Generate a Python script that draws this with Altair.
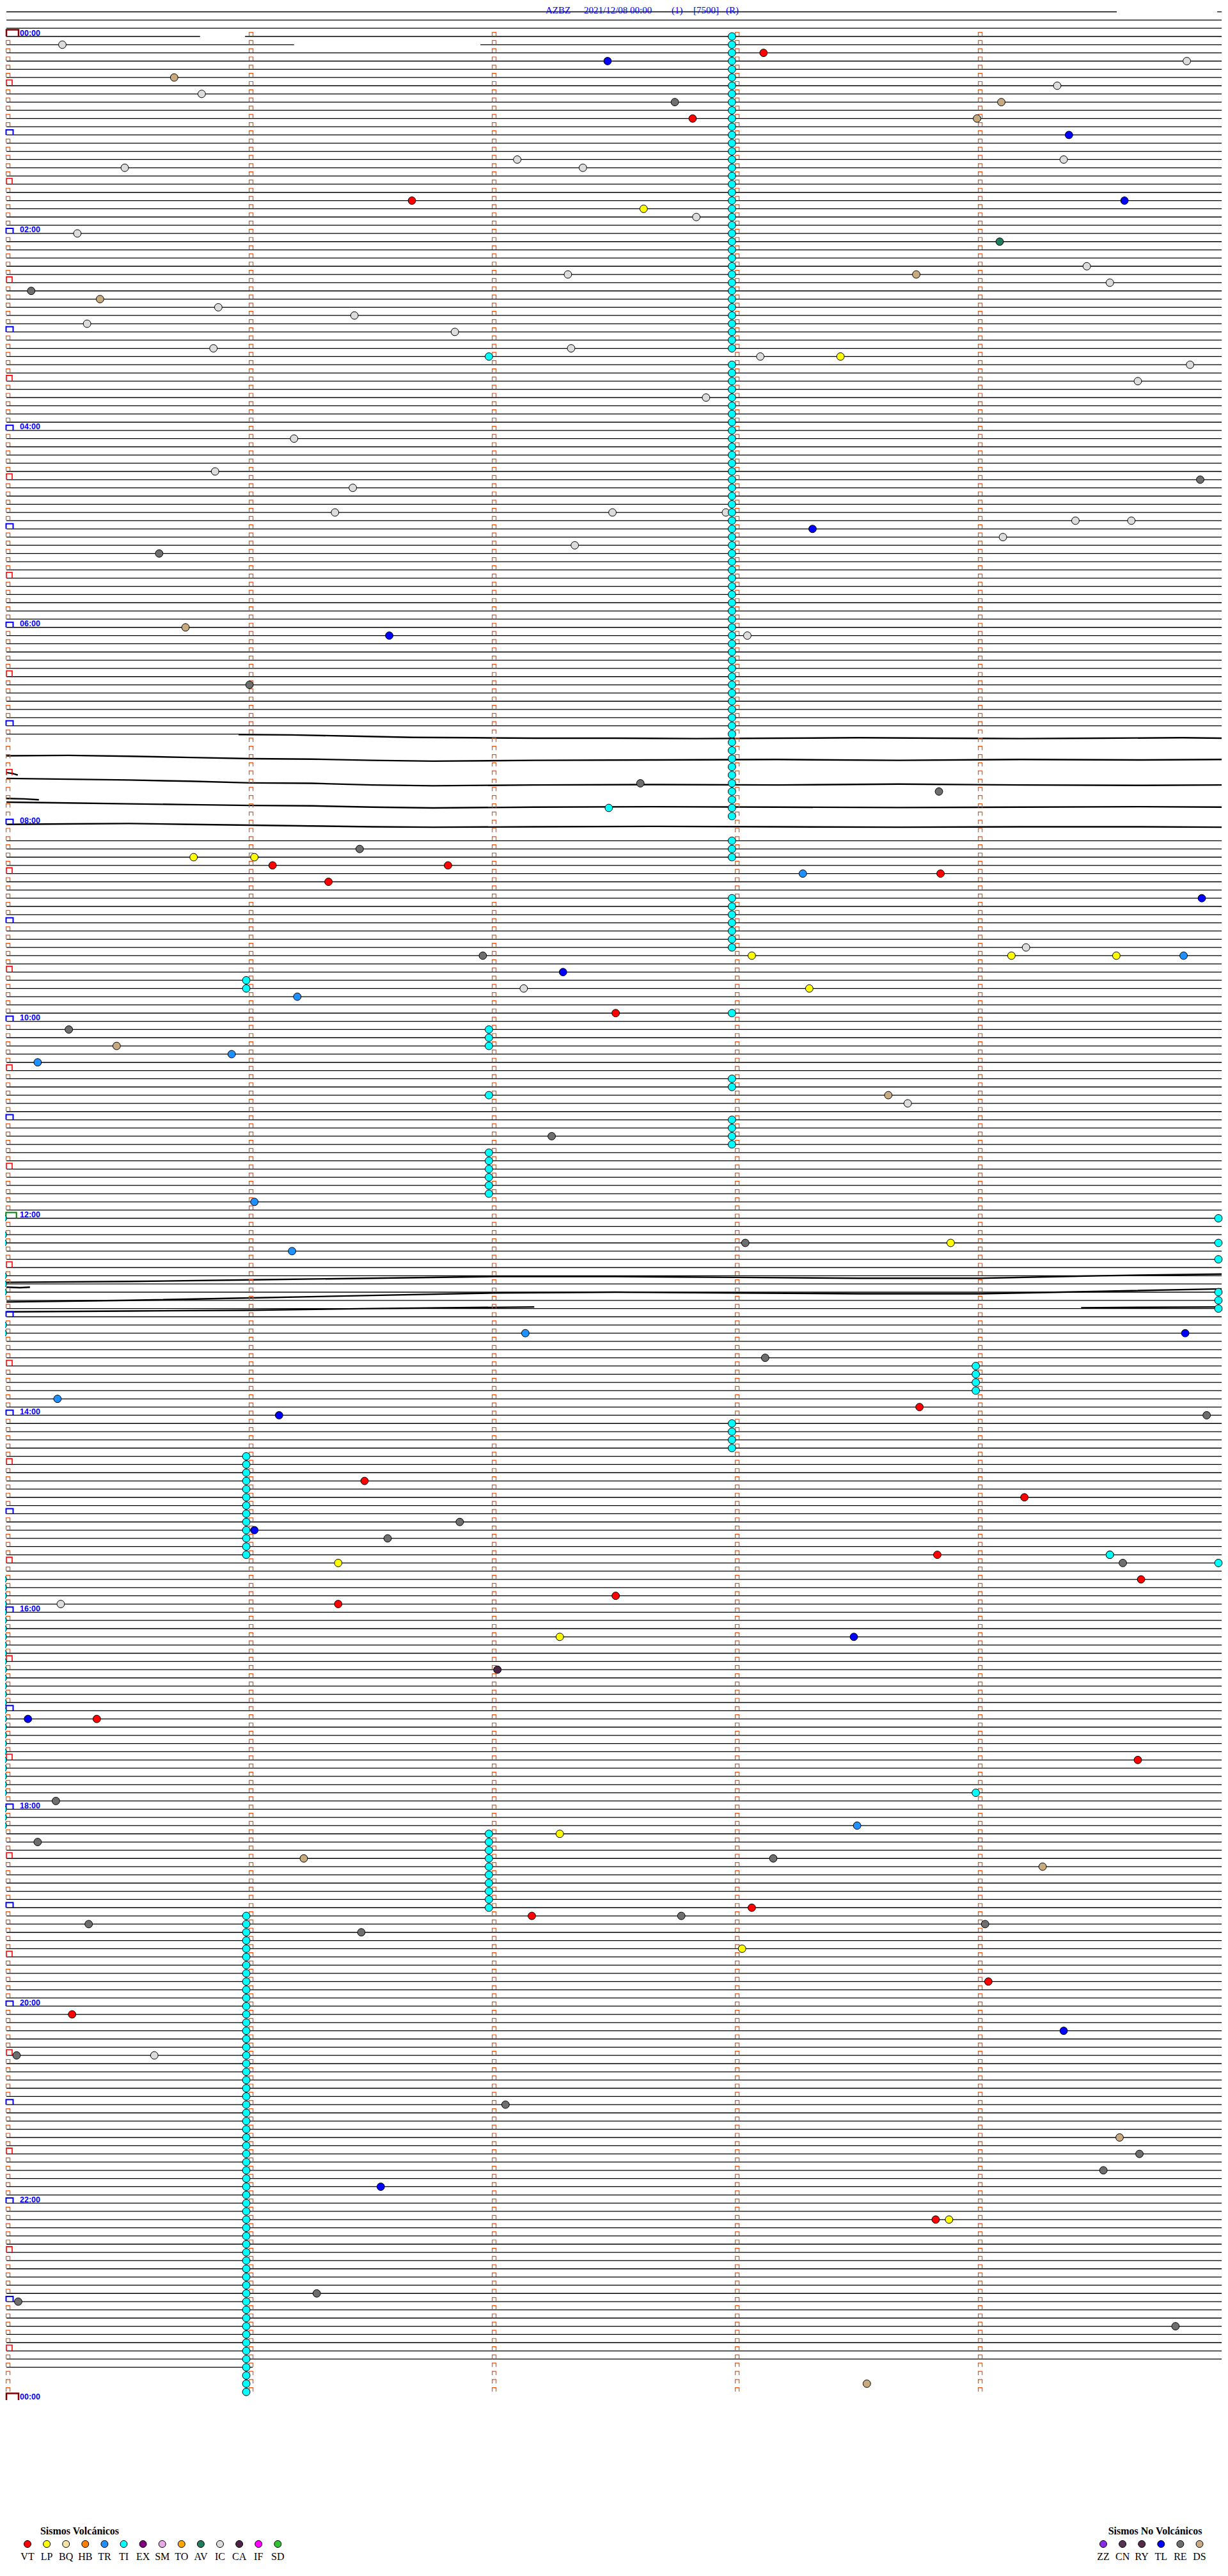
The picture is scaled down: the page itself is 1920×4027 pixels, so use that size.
import altair as alt
import pandas as pd

# ---------------- legend categories ----------------
volc_codes = ["VT", "LP", "BQ", "HB", "TR", "TI", "EX", "SM", "TO", "AV", "IC", "CA", "IF", "SD"]
volc_colors = ["#ff0000", "#ffff00", "#f3e3a6", "#ff8000", "#1e90ff", "#00ffff", "#800080",
               "#e8a8e8", "#ffa500", "#1e7d5a", "#dcdcdc", "#4a2545", "#ff00ff", "#33c033"]
nonvolc_codes = ["ZZ", "CN", "RY", "TL", "RE", "DS"]
nonvolc_colors = ["#8a2be2", "#553355", "#552a4a", "#0000ff", "#6e6e6e", "#c8aa80"]

title_parts = ["AZBZ", "2021/12/08 00:00", "(1)", "[7500]", "(R)"]
hour_labels = ["00:00", "02:00", "04:00", "06:00", "08:00", "10:00", "12:00",
               "14:00", "16:00", "18:00", "20:00", "22:00", "00:00"]

# ---------------- single events (row = 5-min line, sec = seconds in line) ----------------
ev_row = [1, 5, 7, 3, 2, 3, 6, 8, 8, 10, 10, 12, 15, 16, 15, 16, 20, 20, 21, 22,
          24, 25, 28, 29, 29, 30, 31, 32, 33, 34, 35, 36, 38, 38, 39, 39, 40, 42, 44, 49,
          53, 54, 55, 58, 58, 58, 59, 59, 60, 61, 62, 63, 72, 73, 73, 79, 91, 92, 94, 100,
          100, 99, 101, 101, 103, 102, 102, 105, 112, 112, 112, 111, 112, 112, 114, 116, 116, 117, 119, 121,
          123, 124, 125, 129, 130, 134, 142, 147, 147, 148, 158, 158, 161, 166, 167, 168, 168, 176, 178, 182,
          181, 183, 185, 185, 186, 186, 188, 190, 191, 191, 195, 195, 199, 205, 205, 210, 215, 218, 219, 220,
          222, 222, 223, 228, 229, 229, 230, 231, 230, 233, 237, 241, 243, 246, 246, 252, 256, 258, 260, 262,
          266, 266, 276, 275, 279, 286]
ev_sec = [13.5, 41.1, 47.9, 148.1, 186.6, 291.1, 259.1, 164.7, 245.3, 169.1, 239.3, 262.0, 260.7, 28.9, 125.8, 142.0, 99.8, 275.7, 157.0, 170.0,
          17.2, 244.9, 266.4, 138.3, 224.3, 272.1, 5.8, 22.8, 52.0, 85.6, 19.6, 110.4, 50.8, 139.1, 185.8, 205.6, 291.9, 279.0, 172.4, 70.7,
          51.2, 294.4, 85.2, 149.3, 80.8, 177.3, 263.6, 277.4, 198.7, 245.7, 140.0, 37.4, 43.9, 94.2, 182.6, 59.7, 156.2, 229.9, 148.4, 45.9,
          60.9, 86.9, 65.4, 108.7, 79.2, 196.3, 230.3, 294.8, 117.3, 183.7, 247.8, 251.4, 273.7, 290.3, 137.1, 127.4, 197.9, 71.5, 150.1, 15.1,
          26.9, 55.3, 7.4, 217.4, 222.2, 134.3, 60.9, 182.1, 232.8, 70.2, 127.8, 290.7, 187.0, 12.3, 225.1, 67.0, 296.0, 88.1, 251.0, 60.9,
          111.6, 93.8, 229.5, 272.1, 81.6, 275.3, 279.8, 150.1, 13.1, 81.6, 136.3, 208.9, 120.9, 5.0, 22.0, 279.0, 11.9, 209.7, 136.3, 7.4,
          73.1, 189.0, 255.5, 183.7, 129.4, 166.3, 20.0, 87.3, 241.3, 181.3, 242.1, 15.9, 260.7, 2.2, 36.2, 122.9, 274.5, 279.4, 270.5, 92.1,
          229.1, 232.4, 2.6, 76.3, 288.3, 212.1]
ev_type = ["IC", "DS", "IC", "TL", "VT", "IC", "IC", "RE", "DS", "VT", "DS", "TL", "IC", "IC", "IC", "IC", "VT", "TL", "LP", "IC",
           "IC", "AV", "IC", "IC", "DS", "IC", "RE", "DS", "IC", "IC", "IC", "IC", "IC", "IC", "IC", "LP", "IC", "IC", "IC", "IC",
           "IC", "RE", "IC", "IC", "IC", "IC", "IC", "IC", "TL", "IC", "IC", "RE", "DS", "TL", "IC", "RE", "RE", "RE", "TI", "LP",
           "LP", "RE", "VT", "VT", "VT", "TR", "VT", "TL", "RE", "LP", "LP", "IC", "LP", "TR", "TL", "IC", "LP", "TR", "VT", "RE",
           "DS", "TR", "TR", "DS", "IC", "RE", "TR", "RE", "LP", "TR", "TR", "TL", "RE", "TR", "VT", "TL", "RE", "VT", "VT", "TL",
           "RE", "RE", "VT", "TI", "LP", "RE", "VT", "VT", "IC", "VT", "LP", "TL", "CA", "TL", "VT", "VT", "RE", "TR", "LP", "RE",
           "DS", "RE", "DS", "VT", "VT", "RE", "RE", "RE", "RE", "LP", "VT", "VT", "TL", "RE", "IC", "RE", "DS", "RE", "RE", "TL",
           "VT", "LP", "RE", "RE", "RE", "DS"]

# ---------------- columns of TI (tremor) events: (sec, [first_row, last_row] ranges) ----------------
ti_col_sec = [178.8, 58.9, 118.8, -1.2, 298.9, 239.0]
ti_col_rows = [
    [(0, 38), (40, 95), (98, 100), (105, 111), (119, 119), (127, 128), (132, 135), (169, 172)],
    [(115, 116), (173, 185), (229, 287)],
    [(39, 39), (121, 123), (129, 129), (136, 141), (219, 228)],
    [(144, 144), (146, 147), (151, 153), (157, 158), (188, 214), (216, 218)],
    [(144, 144), (147, 147), (149, 149), (153, 155), (186, 186)],
    [(162, 165), (214, 214)],
]

# ---------------- trace lines ----------------
first_row, last_row = -3, 284
line_start, line_end = -0.3, 299.7
partial_rows = {
    -3: [(-0.3, 273.8), (298.6, 299.7)],
    0: [(-0.3, 47.5), (58.6, 299.7)],
    1: [(-0.3, 70.7), (116.7, 299.7)],
    85: [(-0.3, 57.0)],
    284: [(-0.3, 60.5)],
}
blank_rows = [86, 87, 88, 89, 90, 91, 92, 93, 94, 95, 96, 97]

# noisy (drifting) traces: seconds and vertical position in row units
n1_sec = [57, 70, 85, 100, 115, 130, 150, 170, 190, 210, 230, 250, 270, 290, 299.7]
n1_row = [85.05, 85.1, 85.25, 85.4, 85.45, 85.5, 85.5, 85.55, 85.5, 85.45, 85.5, 85.55, 85.5, 85.45, 85.5]
n2_sec = [-0.3, 15, 30, 45, 60, 75, 90, 105, 130, 160, 190, 220, 250, 280, 299.7]
n2_row = [87.65, 87.6, 87.7, 87.85, 88.0, 88.05, 88.2, 88.3, 88.2, 88.15, 88.1, 88.2, 88.1, 88.15, 88.1]
n3_sec = n2_sec
n3_row = [90.4, 90.5, 90.6, 90.75, 90.95, 91.0, 91.2, 91.3, 91.2, 91.15, 91.2, 91.1, 91.2, 91.25, 91.2]
n4_sec = n2_sec
n4_row = [93.3, 93.4, 93.5, 93.6, 93.7, 93.75, 93.9, 94.0, 93.9, 93.85, 93.9, 93.95, 93.9, 93.85, 93.9]
n5_sec = n2_sec
n5_row = [96.0, 95.95, 95.9, 96.0, 96.1, 96.2, 96.3, 96.35, 96.3, 96.25, 96.3, 96.35, 96.3, 96.3, 96.35]
n6_sec = [-0.3, 1.2, 2.5]
n6_row = [89.7, 89.8, 90.0]
n7_sec = [-0.3, 4.0, 7.7]
n7_row = [92.85, 92.9, 93.0]
n8_sec = [-0.3, 30, 60, 90, 120, 150, 180, 210, 240, 270, 299.7]
n8_row = [151.8, 151.7, 151.5, 151.3, 151.1, 151.1, 151.2, 151.3, 151.3, 151.0, 150.8]
n9_sec = n8_sec
n9_row = [154.2, 154.0, 153.7, 153.4, 153.1, 153.0, 153.1, 153.2, 153.2, 152.9, 152.6]
n10_sec = [-0.3, 30, 60, 90, 130]
n10_row = [155.4, 155.3, 155.2, 155.0, 154.8]
n11_sec = [265, 280, 299.7]
n11_row = [154.9, 154.85, 154.8]
n12_sec = [-0.3, 3, 5.5]
n12_row = [152.4, 152.45, 152.4]

noisy = [(n1_sec, n1_row), (n2_sec, n2_row), (n3_sec, n3_row), (n4_sec, n4_row), (n5_sec, n5_row),
         (n6_sec, n6_row), (n7_sec, n7_row), (n8_sec, n8_row), (n9_sec, n9_row), (n10_sec, n10_row),
         (n11_sec, n11_row), (n12_sec, n12_row)]

# ---------------- build tables ----------------
lines = []
for r in range(first_row, last_row + 1):
    if r in blank_rows:
        continue
    for a, b in partial_rows.get(r, [(line_start, line_end)]):
        lines.append({"row": r, "x0": a, "x1": b})
lines_df = pd.DataFrame(lines)

noise_pts = []
for i, (secs, rows) in enumerate(noisy):
    for k, (s, rr) in enumerate(zip(secs, rows)):
        noise_pts.append({"trace": i, "k": k, "sec": s, "row": rr})
noise_df = pd.DataFrame(noise_pts)

ticks = []
for r in range(0, 289):
    for m in range(5):
        if r == 288 and m > 0:
            continue
        if m == 0 and r in (0, 288):
            kind = "day"
        elif m == 0 and r == 144:
            kind = "noon"
        elif m == 0 and r % 12 == 0:
            kind = "hour"
        elif m == 0 and r % 12 == 6:
            kind = "half"
        else:
            kind = "min"
        ticks.append({"row": r, "sec": 60 * m, "kind": kind})
ticks_df = pd.DataFrame(ticks)

events = [{"row": r, "sec": s, "type": t} for r, s, t in zip(ev_row, ev_sec, ev_type)]
for s, ranges in zip(ti_col_sec, ti_col_rows):
    for a, b in ranges:
        for r in range(a, b + 1):
            events.append({"row": r, "sec": s, "type": "TI"})
events.append({"row": 185, "sec": 272.1, "type": "TI"})
events_df = pd.DataFrame(events)

labels_df = pd.DataFrame({"row": [24 * i for i in range(len(hour_labels))], "label": hour_labels})

all_codes = volc_codes + nonvolc_codes
all_colors = volc_colors + nonvolc_colors
color_scale = alt.Scale(domain=all_codes, range=all_colors)

# ---------------- scales (pixel layout) ----------------
ROW_H = 12.83
ROW0 = 49.0
y_scale = alt.Scale(domain=[-ROW0 / ROW_H, 288], range=[0, ROW0 + 288 * ROW_H], nice=False, zero=False)
x_scale = alt.Scale(domain=[0, 300], range=[4, 1904], nice=False, zero=False)

X = lambda f: alt.X(f, scale=x_scale, axis=None)
Y = lambda f: alt.Y(f, scale=y_scale, axis=None)

rules = alt.Chart(lines_df).mark_rule(color="black", strokeWidth=1.3).encode(
    x=X("x0:Q"), x2="x1:Q", y=Y("row:Q"))

noise = alt.Chart(noise_df).mark_line(color="black", strokeWidth=2.4, interpolate="linear").encode(
    x=X("sec:Q"), y=Y("row:Q"), detail="trace:N", order="k:Q")

def tick_layer(kind, path, size, color, sw, xo, yo):
    return alt.Chart(ticks_df[ticks_df.kind == kind]).mark_point(
        shape=path, size=size, filled=False, color=color, strokeWidth=sw,
        xOffset=xo, yOffset=yo, opacity=1).encode(x=X("sec:Q"), y=Y("row:Q"))

t_min = tick_layer("min", "M-1,1V-1H1V1", 36, "#ff4a00", 1.2, 0.6, -3.5)
t_hour = tick_layer("hour", "M-1,0.73V-0.73H1V0.73", 121, "#0000ff", 2.0, 3.0, -4.0)
t_half = tick_layer("half", "M-1,1V-1H1V1", 81, "#ff0000", 1.6, 2.5, -4.5)
t_day = tick_layer("day", "M-1,0.56V-0.56H1V0.56", 361, "#800000", 2.5, 7.5, -5.3)
t_noon = tick_layer("noon", "M-1,0.55V-0.55H1V0.55", 269, "#008000", 2.0, 5.5, -4.5)

hours = alt.Chart(labels_df).mark_text(
    align="left", baseline="alphabetic", font="Liberation Sans", fontWeight="bold",
    fontSize=12.5, color="#0000ff", dx=19, dy=-1.5).encode(x=X("sec0:Q"), y=Y("row:Q"), text="label:N"
).transform_calculate(sec0="0")

pts = alt.Chart(events_df).mark_point(
    shape="circle", filled=True, size=140, stroke="black", strokeWidth=1, opacity=1).encode(
    x=X("sec:Q"), y=Y("row:Q"), fill=alt.Fill("type:N", scale=color_scale, legend=None))

# ---------------- title (pixel layout) ----------------
title_x = [845, 905, 1042, 1076, 1127]
title_layers = [
    alt.Chart(pd.DataFrame({"t": [t]})).mark_text(
        align="left", baseline="alphabetic", font="Liberation Serif", fontSize=15, color="#0000ff").encode(
        x=alt.value(px), y=alt.value(13), text="t:N")
    for t, px in zip(title_parts, title_x)
]

# ---------------- custom legend ----------------
leg = []
for i, c in enumerate(volc_codes):
    leg.append({"code": c, "px": 35 + 30.1 * i})
for j, c in enumerate(nonvolc_codes):
    leg.append({"code": c, "px": 1717 + 30.1 * j})
leg_df = pd.DataFrame(leg)

leg_pts = alt.Chart(leg_df).mark_point(
    shape="circle", filled=True, size=120, stroke="black", strokeWidth=1, opacity=1).encode(
    x=alt.X("px:Q", scale=None, axis=None), y=alt.value(3969),
    fill=alt.Fill("code:N", scale=color_scale, legend=None))
leg_txt = alt.Chart(leg_df).mark_text(
    baseline="middle", align="center", font="Liberation Serif", fontSize=16, color="black").encode(
    x=alt.X("px:Q", scale=None, axis=None), y=alt.value(3989), text="code:N")
leg_t1 = alt.Chart(pd.DataFrame({"t": ["Sismos Volcánicos"]})).mark_text(
    align="center", baseline="middle", font="Liberation Serif", fontWeight="bold", fontSize=16, color="black").encode(
    x=alt.value(116.5), y=alt.value(3949), text="t:N")
leg_t2 = alt.Chart(pd.DataFrame({"t": ["Sismos No Volcánicos"]})).mark_text(
    align="center", baseline="middle", font="Liberation Serif", fontWeight="bold", fontSize=16, color="black").encode(
    x=alt.value(1798), y=alt.value(3949), text="t:N")

chart = alt.layer(
    rules, noise, t_min, t_half, t_hour, t_day, t_noon, hours, pts,
    *title_layers, leg_pts, leg_txt, leg_t1, leg_t2
).resolve_scale(x="independent", y="independent").properties(
    width=1904, height=4010, autosize="none", padding=0
).configure_view(stroke=None)

chart.save("out.html", embed_options={"renderer": "svg", "actions": False})
